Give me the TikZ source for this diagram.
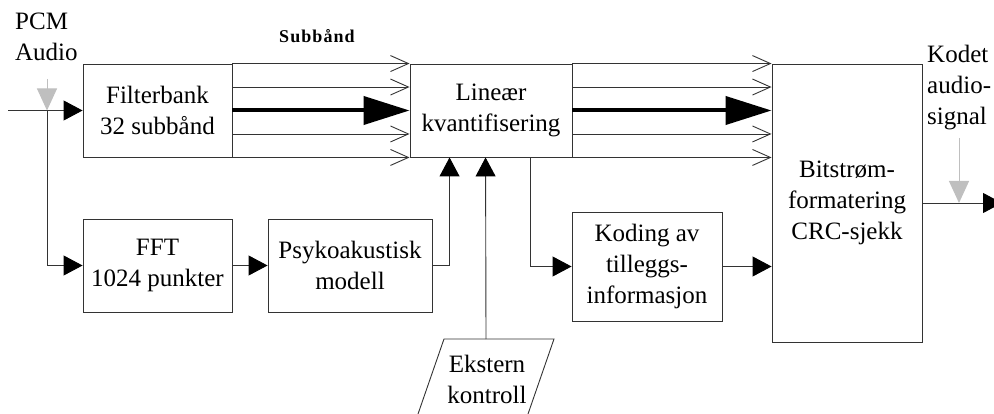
\documentclass[tikz,border=0pt]{standalone}
\usepackage{fontspec}
\setmainfont{Liberation Serif}
\usetikzlibrary{arrows.meta,calc}
\definecolor{ln}{gray}{0.2}
\definecolor{lgray}{gray}{0.75}
\begin{document}
\begin{tikzpicture}[x=1pt,y=-1pt,
  every node/.style={font=\fontsize{25}{31}\selectfont, inner sep=0pt},
  box/.style={draw=ln, line width=0.9pt, align=center},
  conn/.style={draw=ln, line width=0.9pt},
  tri/.style={conn, -{Triangle[length=19pt,width=20pt,color=black]}},
  barb/.style={conn, -{Straight Barb[length=18pt,width=16pt]}},
  big/.style={draw=black, line width=4pt, -{Triangle[length=46pt,width=28pt]}},
  gr/.style={draw=lgray, line width=1pt, -{Triangle[length=22pt,width=20pt]}}]
\useasboundingbox (0,0) rectangle (994,414);

% boxes
\node[box, minimum width=149, minimum height=93] (fb) at (157.5,110.5) {Filterbank\\32 subbånd};
\node[box, minimum width=162, minimum height=93] (lin) at (491,110.5) {Lineær\\kvantifisering};
\node[box, minimum width=150, minimum height=278] (bit) at (847,203) {Bitstrøm-\\formatering\\CRC-sjekk};
\node[box, minimum width=149, minimum height=93] (fft) at (157.5,265.5) {FFT\\1024 punkter};
\node[box, minimum width=164, minimum height=93] (psy) at (350,265.5) {Psykoakustisk\\modell};
\node[box, minimum width=150, minimum height=109] (kod) at (647,266.5) {Koding av\\tilleggs-\\informasjon};

% external control (parallelogram, cut at the bottom)
\draw[conn] (418,414) -- (444,339) -- (554,339) -- (528,414);
\node[align=center] (ekst) at (487,379) {Ekstern\\kontroll};
\coordinate (ekTop) at (486,339);

% labels
\node[align=left, anchor=north west] (pcm) at (15,13) {PCM\\Audio};
\node[align=left, anchor=north west] (kodet) at (927,45) {Kodet\\audio-\\signal};
\node[font=\fontsize{18}{20}\selectfont\bfseries\addfontfeatures{LetterSpace=6}] (sub) at (317,36) {Subbånd};

% coordinates
\coordinate (in) at (8,110.5);
\coordinate (split) at (47,110.5);
\coordinate (g1) at (47,79);
\coordinate (l1) at ($(lin.south west)+(40,0)$);
\coordinate (l2) at ($(lin.south west)+(76,0)$);
\coordinate (l3) at ($(lin.south west)+(121,0)$);
\coordinate (out) at (1002,203);
\coordinate (g2) at (959,138);
\coordinate (g2e) at (959,203);
\coordinate (a1) at ($(fb.north east)!0.25!(fb.south east)$);
\coordinate (a3) at ($(fb.north east)!0.75!(fb.south east)$);
\coordinate (b1) at ($(lin.north west)!0.25!(lin.south west)$);
\coordinate (b3) at ($(lin.north west)!0.75!(lin.south west)$);
\coordinate (c1) at ($(lin.north east)!0.25!(lin.south east)$);
\coordinate (c3) at ($(lin.north east)!0.75!(lin.south east)$);

% input
\draw[tri] (in) -- (fb.west);
\draw[tri] (split) -- (split |- fft.west) -- (fft.west);
\draw[gr] (g1) -- (split);

% subbands fb -> lin
\draw[barb] (fb.north east) -- (fb.north east -| lin.west);
\draw[barb] (a1) -- (b1);
\draw[big] (fb.east) -- (lin.west);
\draw[barb] (a3) -- (b3);
\draw[barb] (fb.south east) -- (fb.south east -| lin.west);

% lin -> bit
\draw[barb] (lin.north east) -- (lin.north east -| bit.west);
\draw[barb] (c1) -- (c1 -| bit.west);
\draw[big] (lin.east) -- (lin.east -| bit.west);
\draw[barb] (c3) -- (c3 -| bit.west);
\draw[barb] (lin.south east) -- (lin.south east -| bit.west);

% lower row
\draw[tri] (fft.east) -- (psy.west);
\draw[tri] (psy.east) -- (psy.east -| l1) -- (l1);
\draw[tri] (ekTop) -- (l2);
\draw[tri] (l3) -- (l3 |- kod.west) -- (kod.west);
\draw[tri] (kod.east) -- (kod.east -| bit.west);

% output
\draw[tri] (bit.east) -- (out);
\draw[gr] (g2) -- (g2e);
\end{tikzpicture}
\end{document}
